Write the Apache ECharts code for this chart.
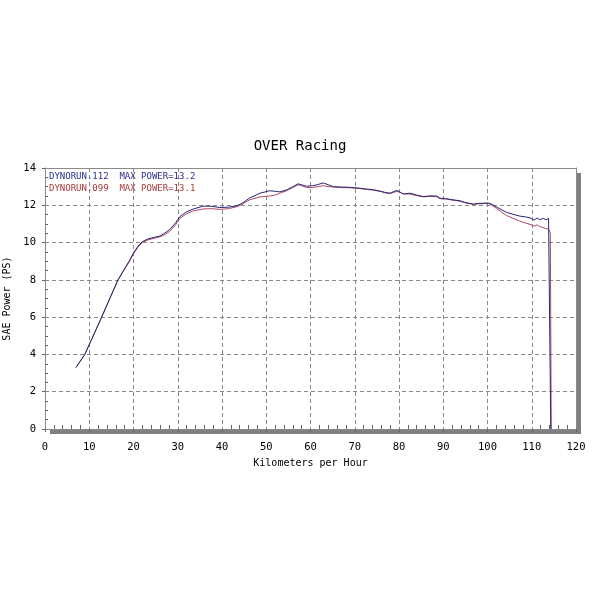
<!DOCTYPE html>
<html><head><meta charset="utf-8">
<script src="https://cdn.jsdelivr.net/npm/echarts@6/dist/echarts.min.js"></script>
<style>html,body{margin:0;padding:0;background:#fff}#c{width:600px;height:600px}</style>
</head><body><div id="c"></div>
<script>
const titleText = 'OVER Racing';
const xName = 'Kilometers per Hour';
const yName = 'SAE Power (PS)';
const run112Label = 'DYNORUN.112  MAX POWER=13.2';
const run099Label = 'DYNORUN.099  MAX POWER=13.1';

const run112 = [[7,3.3],[9,4.0],[12.8,6.0],[16.5,8.0],[19,9.0],[20,9.45],[21,9.8],[22,10.05],[23.3,10.2],[25,10.3],[26,10.35],[27,10.5],[28.2,10.7],[29.5,11.05],[30.5,11.4],[32,11.65],[33.5,11.8],[35.7,11.95],[37.5,11.95],[39.5,11.88],[41.5,11.9],[43.3,11.97],[44.5,12.1],[46.3,12.4],[48.6,12.65],[50.8,12.78],[52,12.75],[53.1,12.72],[54.6,12.82],[56,13.0],[57.2,13.15],[58,13.1],[59.1,13.02],[60.5,13.05],[61.5,13.1],[62.9,13.2],[64,13.1],[65.2,13.0],[67,12.98],[69,12.96],[71,12.92],[72.7,12.87],[74,12.84],[75.7,12.76],[77,12.68],[78,12.65],[79.5,12.8],[80.3,12.7],[81,12.6],[82.5,12.65],[84,12.55],[85.5,12.47],[87,12.5],[88.5,12.5],[89.3,12.38],[90.5,12.36],[92,12.3],[93.8,12.24],[95,12.15],[96.8,12.06],[98,12.1],[100.2,12.12],[101,12.05],[102.1,11.9],[104.3,11.62],[106,11.5],[107.3,11.42],[108.5,11.38],[109.6,11.33],[110.5,11.2],[111.2,11.32],[111.9,11.22],[112.6,11.3],[113.2,11.22],[113.8,11.3],[114.2,11.25],[114.3,0]];

const run099 = [[7,3.3],[9,4.0],[12.8,6.0],[16.5,8.0],[19,8.95],[20,9.4],[21,9.75],[22,10.0],[23.3,10.15],[25,10.25],[26.5,10.35],[28.2,10.6],[29.5,10.95],[30.5,11.3],[32,11.55],[33.5,11.7],[35.7,11.8],[37.5,11.82],[39.5,11.78],[41.5,11.82],[43.3,11.92],[44.5,12.05],[46.3,12.3],[48.6,12.45],[50.8,12.5],[52,12.55],[53.1,12.65],[54.6,12.78],[56,12.95],[57.2,13.1],[58,13.05],[59.1,12.95],[60.5,12.95],[61.5,13.0],[62.9,13.05],[64,13.0],[65.2,12.98],[67,12.95],[69,12.94],[71,12.9],[72.7,12.85],[74,12.82],[75.7,12.75],[77,12.66],[78,12.63],[79.5,12.75],[80.3,12.68],[81,12.62],[82.5,12.6],[84,12.52],[85.5,12.45],[87,12.48],[88.5,12.46],[89.3,12.35],[90.5,12.34],[92,12.28],[93.8,12.22],[95,12.13],[96.8,12.05],[98,12.08],[100.2,12.1],[101,12.0],[102.1,11.82],[104.3,11.45],[106,11.28],[107.3,11.15],[108.5,11.05],[109.6,10.98],[110.5,10.88],[111.2,10.95],[111.9,10.85],[112.6,10.8],[113.2,10.75],[113.8,10.72],[114.2,10.5],[114.4,0]];

const mono = 'DejaVu Sans Mono';
const borderAxisLine = {show:true, onZero:false, lineStyle:{color:'#8a8a8a', width:1}};
const dashed = {show:true, showMinLine:false, showMaxLine:false, lineStyle:{color:'#888', type:[4,3], width:1}};
const chart = echarts.init(document.getElementById('c'), null, {renderer:'canvas'});
chart.setOption({
  animation:false,
  backgroundColor:'#fff',
  title:[
    {text:titleText, left:'center', top:134, textStyle:{fontFamily:mono, fontSize:14, fontWeight:'normal', color:'#000'}},
    {text:run112Label, left:47, top:172, padding:[0,0,0,2], textStyle:{fontFamily:mono, fontSize:9, fontWeight:'normal', color:'#2b2f8c'}},
    {text:run099Label, left:47, top:184, padding:[0,0,0,2], textStyle:{fontFamily:mono, fontSize:9, fontWeight:'normal', color:'#a83c3c'}}
  ],
  grid:{left:45, right:24, top:168, bottom:171, containLabel:false, outerBoundsMode:'none',
        show:true, backgroundColor:'#fff', borderWidth:0,
        shadowColor:'#7f7f7f', shadowBlur:0, shadowOffsetX:5, shadowOffsetY:5},
  xAxis:[{type:'value', min:0, max:120, interval:10, name:xName, nameLocation:'middle', nameGap:29,
    nameTextStyle:{fontFamily:mono, fontSize:10, color:'#000'},
    axisLine:borderAxisLine,
    axisTick:{show:true, length:3, lineStyle:{color:'#666'}},
    minorTick:{show:true, splitNumber:5, length:-4, lineStyle:{color:'#666'}},
    axisLabel:{fontFamily:mono, fontSize:10.5, color:'#000', margin:13},
    splitLine:dashed},
    {type:'value', min:0, max:120, interval:10, position:'top', axisLine:borderAxisLine,
     axisTick:{show:false}, axisLabel:{show:false}, splitLine:{show:false}}],
  yAxis:[{type:'value', min:0, max:14, interval:2, name:yName, nameLocation:'middle', nameGap:30, nameRotate:90,
    nameTextStyle:{fontFamily:mono, fontSize:10, color:'#000'},
    axisLine:borderAxisLine,
    axisTick:{show:true, length:3, lineStyle:{color:'#666'}},
    minorTick:{show:true, splitNumber:4, length:-3, lineStyle:{color:'#666'}},
    axisLabel:{fontFamily:mono, fontSize:10.5, color:'#000', margin:9},
    splitLine:dashed},
    {type:'value', min:0, max:14, interval:2, position:'right', axisLine:borderAxisLine,
     axisTick:{show:false}, axisLabel:{show:false}, splitLine:{show:false}}],
  series:[
    {name:'099', type:'line', data:run099, showSymbol:false, symbol:'none', lineStyle:{color:'#b04a66', width:1}, z:2},
    {name:'112', type:'line', data:run112, showSymbol:false, symbol:'none', lineStyle:{color:'#26267a', width:1}, z:3}
  ]
});
</script></body></html>
